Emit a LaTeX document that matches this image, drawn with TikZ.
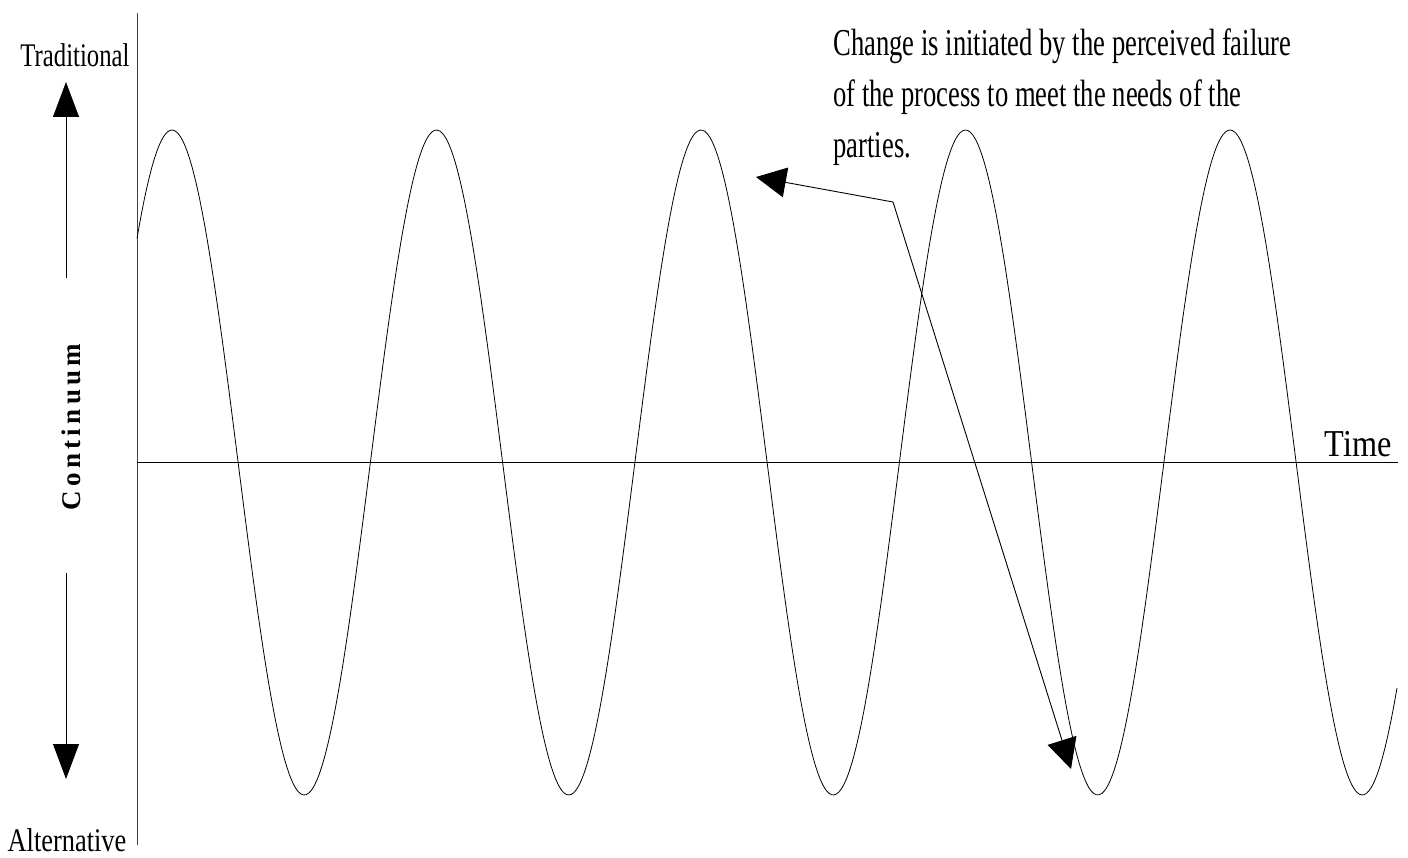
\documentclass[tikz,border=0pt]{standalone}
\usepackage{fontspec}
\setmainfont{Liberation Serif}
\usetikzlibrary{arrows.meta}
\newcommand{\narrowtxt}[2]{\scalebox{#1}[1]{#2}}

\begin{document}
\begin{tikzpicture}[x=1pt,y=-1pt,line width=0.9pt,
  bigtip/.style={-{Triangle[length=35pt,width=26pt]}},
  notetip/.style={-{Triangle[length=30pt,width=30pt]}},
  lbl/.style={inner sep=0pt}]
\useasboundingbox (0,0) rectangle (1408,858);
% axes
\draw[black!75] (137,13) -- (137,845);
\draw (137,462) -- (1398,462);
\node[lbl,anchor=base east] (time) at (1392,456)
  {\fontsize{38}{40}\selectfont\narrowtxt{0.85}{Time}};
% the wave
\draw[line width=0.8pt] plot[domain=137:1397,samples=500,smooth]
  (\x,{462.5-332.5*cos((\x-172)/264.5*360)});
% left scale
\node[lbl] (trad) at (75,55)
  {\fontsize{33}{34}\selectfont\narrowtxt{0.75}{Traditional}};
\node[lbl] (alt) at (67,840)
  {\fontsize{33}{34}\selectfont\narrowtxt{0.8}{Alternative}};
\node[lbl,rotate=90] (cont) at (71,427)
  {\fontsize{27}{28}\selectfont\bfseries\addfontfeature{LetterSpace=16}Continuum};
\coordinate (upbot) at (66,278);
\coordinate (uptop) at (66,82);
\coordinate (dntop) at (66,573);
\coordinate (dnbot) at (66,779);
\draw[bigtip] (upbot) -- (uptop);
\draw[bigtip] (dntop) -- (dnbot);
% annotation
\node[lbl,anchor=base west] (note) at (833,56)
  {\fontsize{38}{51}\selectfont\narrowtxt{0.7}{\begin{tabular}[t]{@{}l@{}}
   Change is initiated by the perceived failure\\
   of the process to meet the needs of the\\
   parties.\end{tabular}}};
\coordinate (bend) at (893,202);
\coordinate (tipa) at (756,177);
\coordinate (tipb) at (1071,769);
\draw[notetip] (bend) -- (tipa);
\draw[notetip] (bend) -- (tipb);
\end{tikzpicture}
\end{document}
